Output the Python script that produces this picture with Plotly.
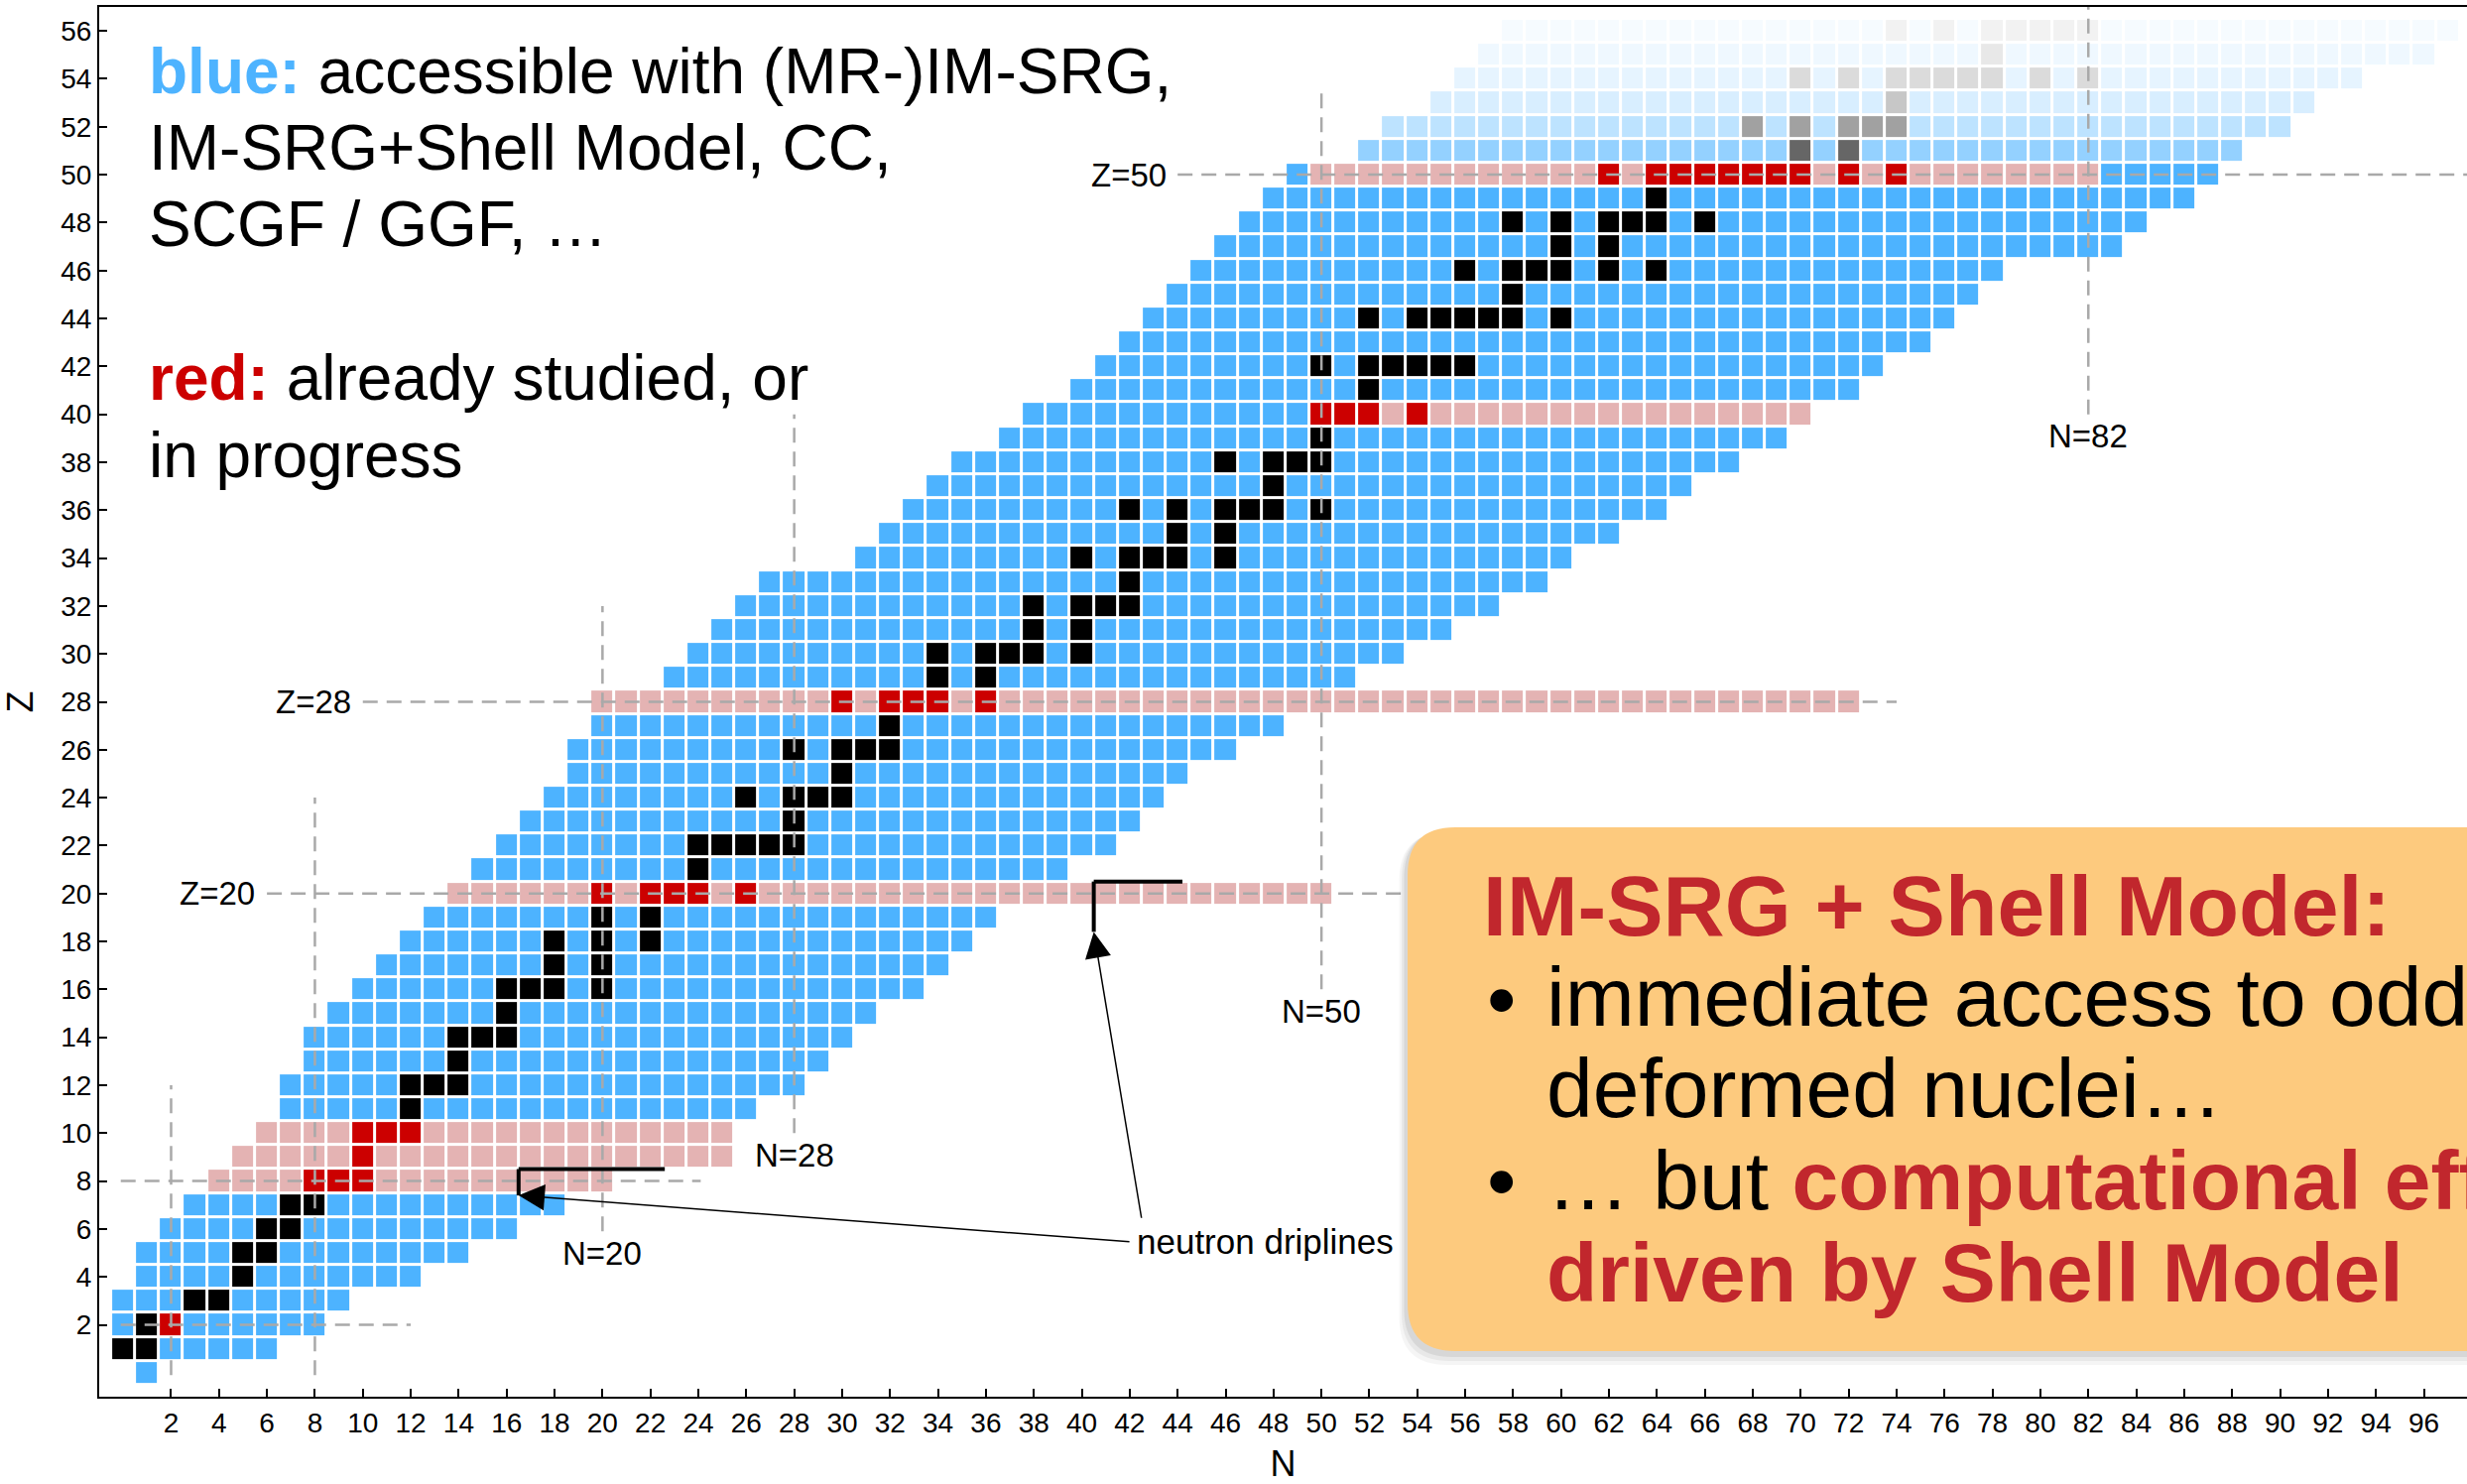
import plotly.graph_objects as go

# ---------------------------------------------------------------- data
# proton number of each row of the chart
Z_VALUES = list(range(57))
# lightest and heaviest isotope (neutron number) drawn in each row
N_FIRST = [1, 0, 0, 0, 1, 1, 2, 3, 4, 5, 6, 7, 7, 8, 8, 9, 10, 11, 12, 13,
           14, 15, 16, 17, 18, 19, 19, 20, 20, 23, 24, 25, 26, 27, 31, 32, 33, 34, 35, 37,
           38, 40, 41, 42, 43, 44, 45, 46, 47, 48, 49, 52, 53, 55, 56, 57, 58]
N_LAST = [1, 6, 8, 9, 12, 14, 16, 18, 20, 25, 25, 26, 28, 29, 30, 31, 33, 34, 35, 36,
          50, 39, 41, 42, 43, 44, 46, 48, 72, 51, 53, 55, 57, 59, 60, 62, 64, 65, 67, 69,
          70, 72, 73, 75, 76, 77, 78, 83, 84, 86, 87, 88, 90, 91, 93, 96, 97]

# isotopic chains under study (pink rows): proton number and neutron span
CHAIN_Z = [8, 9, 10, 20, 28, 40, 50]
CHAIN_N_FROM = [4, 5, 6, 14, 20, 50, 50]
CHAIN_N_TO = [20, 25, 25, 50, 72, 70, 82]

# stable nuclei (neutron numbers per element)
STABLE_N = {
    1: [0, 1], 2: [1], 3: [3, 4], 4: [5], 5: [5, 6], 6: [6, 7], 7: [7, 8],
    11: [12], 12: [12, 13, 14], 13: [14], 14: [14, 15, 16], 15: [16],
    16: [16, 17, 18, 20], 17: [18, 20], 18: [18, 20, 22], 19: [20, 22],
    21: [24], 22: [24, 25, 26, 27, 28], 23: [28], 24: [26, 28, 29, 30], 25: [30],
    26: [28, 30, 31, 32], 27: [32], 29: [34, 36], 30: [34, 36, 37, 38, 40],
    31: [38, 40], 32: [38, 40, 41, 42], 33: [42], 34: [40, 42, 43, 44, 46],
    35: [44, 46], 36: [42, 44, 46, 47, 48, 50], 37: [48], 38: [46, 48, 49, 50],
    39: [50], 41: [52], 42: [50, 52, 53, 54, 55, 56], 44: [52, 54, 55, 56, 57, 58, 60],
    45: [58], 46: [56, 58, 59, 60, 62, 64], 47: [60, 62], 48: [58, 60, 62, 63, 64, 66],
    49: [64], 51: [70, 72], 52: [68, 70, 72, 73, 74], 53: [74],
    54: [70, 72, 74, 75, 76, 77, 78, 80, 82], 55: [78], 56: [74, 76, 78, 79, 80, 81, 82],
}

# nuclei already computed or in progress (red)
STUDIED_N = {
    2: [2], 8: [8, 9, 10], 9: [10], 10: [10, 11, 12],
    20: [20, 22, 23, 24, 26], 28: [30, 32, 33, 34, 36], 40: [50, 51, 52, 54],
    50: [62, 64, 65, 66, 67, 68, 69, 70, 72, 74],
}

# rows beyond Z=50 fade out
FADE_ALPHA = {51: 0.60, 52: 0.37, 53: 0.22, 54: 0.14, 55: 0.09, 56: 0.05}

N_TICKS = list(range(2, 97, 2))
Z_TICKS = list(range(2, 57, 2))

# ---------------------------------------------------------------- styling
FONT = "Liberation Sans"
BLUE = "#4DB3FF"
PINK = "#E4B3B3"
RED = "#CC0000"
BLACK = "#000000"
BOX_RED = "#C1272D"
GUIDE = "#A9A9A9"

W, H = 2487, 1496
PX_L, PX_R, PX_T, PX_B = 100, 2487, 7, 1408


def fade(hex_color, alpha):
    r, g, b = (int(hex_color[i:i + 2], 16) for i in (1, 3, 5))
    mixed = [round(255 - alpha * (255 - c)) for c in (r, g, b)]
    return "rgb({}, {}, {})".format(*mixed)


def paper(px, py):
    return (px - PX_L) / (PX_R - PX_L), (PX_B - py) / (PX_B - PX_T)


fade_rows = sorted(FADE_ALPHA)
palette = [BLUE, PINK, RED, BLACK]
palette += [fade(BLUE, FADE_ALPHA[z]) for z in fade_rows]
palette += [fade(BLACK, FADE_ALPHA[z]) for z in fade_rows]
n_cat = len(palette)
colorscale = []
for k, c in enumerate(palette):
    colorscale += [[k / n_cat, c], [(k + 1) / n_cat, c]]

# ---------------------------------------------------------------- cell grid
n_cols = max(N_LAST) + 1
grid = [[None] * n_cols for _ in Z_VALUES]
for z, n0, n1 in zip(Z_VALUES, N_FIRST, N_LAST):
    faded = z in FADE_ALPHA
    k = fade_rows.index(z) if faded else 0
    for n in range(n0, n1 + 1):
        grid[z][n] = 4 + k if faded else 0
    for n in STABLE_N.get(z, []):
        grid[z][n] = 4 + len(fade_rows) + k if faded else 3
for z, n0, n1 in zip(CHAIN_Z, CHAIN_N_FROM, CHAIN_N_TO):
    for n in range(n0, n1 + 1):
        grid[z][n] = 1
for z, ns in STUDIED_N.items():
    for n in ns:
        grid[z][n] = 2

fig = go.Figure(go.Heatmap(
    x=list(range(n_cols)), y=Z_VALUES, z=grid,
    zmin=-0.5, zmax=n_cat - 0.5, colorscale=colorscale, showscale=False,
    xgap=3, ygap=3, hoverinfo="skip",
))

# ---------------------------------------------------------------- guide lines
shapes = []
dash = dict(color=GUIDE, width=2.5, dash="15px,9px")
for n, z0, z1 in [(2, -0.1, 12), (8, -0.1, 24), (20, 5.9, 32), (28, 10, 40),
                  (50, 16, 53.7), (82, 40, 57)]:
    shapes.append(dict(type="line", xref="x", yref="y", x0=n, x1=n, y0=z0, y1=z1,
                       line=dash, layer="above"))
for z, n0, n1 in [(2, -0.1, 12), (8, -0.1, 24.1), (20, 6, 53.5), (28, 10, 74),
                  (50, 44, 99)]:
    shapes.append(dict(type="line", xref="x", yref="y", x0=n0, x1=n1, y0=z, y1=z,
                       line=dash, layer="above"))

# neutron dripline brackets
bracket = dict(color="black", width=4)
for (xa, ya), (xb, yb) in [((16.5, 8.5), (22.6, 8.5)), ((16.5, 8.5), (16.5, 7.4)),
                           ((40.5, 20.5), (44.2, 20.5)), ((40.5, 20.5), (40.5, 18.4))]:
    shapes.append(dict(type="line", xref="x", yref="y", x0=xa, y0=ya, x1=xb, y1=yb,
                       line=bracket, layer="above"))


def rounded_box(x0, y0, x1, y1, r):
    pts = [
        ("M", [(x0 + r, y0)]), ("L", [(x1 - r, y0)]), ("Q", [(x1, y0), (x1, y0 + r)]),
        ("L", [(x1, y1 - r)]), ("Q", [(x1, y1), (x1 - r, y1)]), ("L", [(x0 + r, y1)]),
        ("Q", [(x0, y1), (x0, y1 - r)]), ("L", [(x0, y0 + r)]), ("Q", [(x0, y0), (x0 + r, y0)]),
    ]
    out = []
    for cmd, ps in pts:
        coords = " ".join("{:.5f},{:.5f}".format(*paper(px, py)) for px, py in ps)
        out.append(cmd + " " + coords)
    return " ".join(out) + " Z"


# callout box with a soft shadow
for off, a in [(14, 0.04), (10, 0.05), (6, 0.07)]:
    shapes.append(dict(type="path", xref="paper", yref="paper", layer="above",
                       path=rounded_box(1419 - off * 0.6, 835 + off * 0.3, 2560, 1362 + off, 48),
                       fillcolor="rgba(0,0,0,{})".format(a), line=dict(width=0)))
shapes.append(dict(type="path", xref="paper", yref="paper", layer="above",
                   path=rounded_box(1419, 834, 2560, 1362, 48),
                   fillcolor="#FDCA7E", line=dict(width=0)))

# ---------------------------------------------------------------- text
ann = []


def note(x, y, text, size, xanchor="center", color="black", ref="data"):
    d = dict(text=text, showarrow=False, xanchor=xanchor, yanchor="middle",
             font=dict(family=FONT, size=size, color=color))
    if ref == "data":
        d.update(x=x, y=y, xref="x", yref="y")
    else:
        px, py = paper(x, y)
        d.update(x=px, y=py, xref="paper", yref="paper")
    ann.append(d)


for label, x, y in [("Z=20", 5.6, 20), ("Z=28", 9.6, 28), ("Z=50", 43.6, 50)]:
    note(x, y, label, 33, xanchor="right")
for label, x, y in [("N=20", 20, 5.0), ("N=28", 28, 9.07), ("N=50", 50, 15.08),
                    ("N=82", 82, 39.1)]:
    note(x, y, label, 33)
note(42.2, 5.46, "neutron driplines", 35, xanchor="left")

for (tx, ty), (hx, hy) in [((42.05, 5.46), (16.5, 7.4)), ((42.5, 6.4), (40.5, 18.4))]:
    ann.append(dict(x=hx, y=hy, ax=tx, ay=ty, xref="x", yref="y", axref="x", ayref="y",
                    text="", showarrow=True, arrowhead=2, arrowsize=3.5, arrowwidth=1.5,
                    arrowcolor="black"))

left_lines = [
    ("<b><span style='color:{}'>blue:</span></b> accessible with (MR-)IM-SRG,".format(BLUE), 72),
    ("IM-SRG+Shell Model, CC,", 149),
    ("SCGF / GGF, …", 226),
    ("<b><span style='color:{}'>red:</span></b> already studied, or".format(RED), 381),
    ("in progress", 459),
]
for txt, py in left_lines:
    note(148, py, txt, 64, xanchor="left", ref="paper")

note(1493, 913, "<b>IM-SRG + Shell Model:</b>", 86, xanchor="left", color=BOX_RED, ref="paper")
note(1497, 1007, "•", 84, xanchor="left", ref="paper")
note(1557, 1005, "immediate access to odd", 84, xanchor="left", ref="paper")
note(1557, 1097, "deformed nuclei…", 84, xanchor="left", ref="paper")
note(1497, 1190, "•", 84, xanchor="left", ref="paper")
note(1557, 1190, "… but <b><span style='color:{}'>computational effort</span></b>".format(BOX_RED),
     84, xanchor="left", ref="paper")
note(1557, 1283, "<b>driven by Shell Model</b>", 84, xanchor="left", color=BOX_RED, ref="paper")

axis_common = dict(showgrid=False, zeroline=False, showline=True, linecolor="black",
                   linewidth=2, ticks="inside", ticklen=8, tickwidth=2, tickcolor="black",
                   tickfont=dict(family=FONT, size=28, color="black"))

fig.update_layout(
    width=W, height=H,
    margin=dict(l=PX_L, r=W - PX_R, t=PX_T, b=H - PX_B),
    paper_bgcolor="white", plot_bgcolor="white",
    font=dict(family=FONT, color="black"),
    xaxis=dict(range=[-1, 97.8], tickvals=N_TICKS, mirror=True,
               title=dict(text="N", font=dict(family=FONT, size=36, color="black"), standoff=14),
               **axis_common),
    yaxis=dict(range=[-1, 57], tickvals=Z_TICKS, mirror=False,
               title=dict(text="Z", font=dict(family=FONT, size=36, color="black"), standoff=18),
               **axis_common),
    shapes=shapes, annotations=ann, showlegend=False,
)

fig.write_html("out.html")
